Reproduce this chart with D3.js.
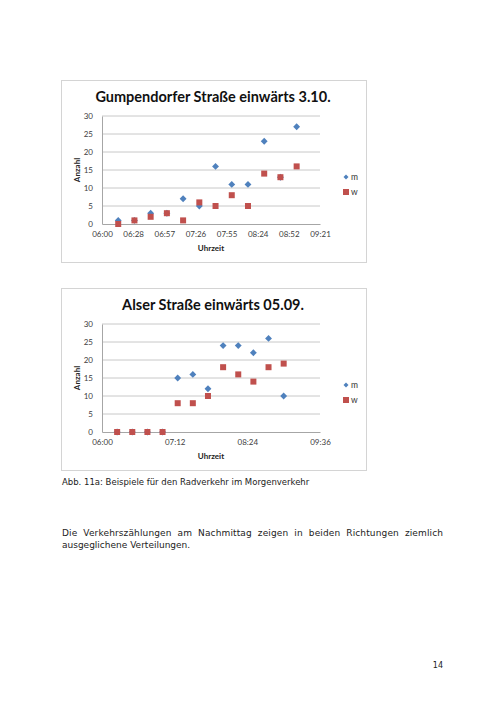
<!DOCTYPE html>
<html>
<head>
<meta charset="utf-8">
<script src="https://cdn.jsdelivr.net/npm/d3@7"></script>
<style>
  body { margin: 0; background: #fff; }
  .tick text { font-family: Lato, "Open Sans", sans-serif; font-size: 8px; fill: #404040; }
  .axisTitle { font-family: Lato, sans-serif; font-size: 8px; font-weight: bold; fill: #222; }
  .chartTitle { font-family: Lato, sans-serif; font-size: 14.5px; font-weight: bold; fill: #111; }
  .legendText { font-family: Lato, sans-serif; font-size: 8.5px; fill: #333; }
  .pageText { font-family: "DejaVu Sans", Verdana, sans-serif; fill: #222; }
</style>
</head>
<body>
<svg></svg>
<script>
const w = 504;
const h = 712;

// Chart 1: Gumpendorfer Straße
const times1 = ["06:15", "06:30", "06:45", "07:00", "07:15", "07:30", "07:45", "08:00", "08:15", "08:30", "08:45", "09:00"];
const m1 = [1, 1, 3, 3, 7, 5, 16, 11, 11, 23, 13, 27];
const w1 = [0, 1, 2, 3, 1, 6, 5, 8, 5, 14, 13, 16];
const xTicks1 = [0, 28.8, 57.6, 86.4, 115.2, 144, 172.8, 201.6];
const xLabels1 = ["06:00", "06:28", "06:57", "07:26", "07:55", "08:24", "08:52", "09:21"];

// Chart 2: Alser Straße
const times2 = ["06:15", "06:30", "06:45", "07:00", "07:15", "07:30", "07:45", "08:00", "08:15", "08:30", "08:45", "09:00"];
const m2 = [0, 0, 0, 0, 15, 16, 12, 24, 24, 22, 26, 10];
const w2 = [0, 0, 0, 0, 8, 8, 10, 18, 16, 14, 18, 19];
const xTicks2 = [0, 72, 144, 216];
const xLabels2 = ["06:00", "07:12", "08:24", "09:36"];

const yTicks = [0, 5, 10, 15, 20, 25, 30];
const seriesNames = ["m", "w"];

const svg = d3.select("svg").attr("width", w).attr("height", h);
svg.append("rect").attr("width", w).attr("height", h).attr("fill", "#fff");

const toMin = (t) => {
  const [hh, mm] = t.split(":").map(Number);
  return (hh - 6) * 60 + mm;
};

const drawChart = (top, title, times, mVals, wVals, xTicks, xLabels) => {
  const g = svg.append("g").attr("transform", `translate(61,${top})`);
  const boxW = 305;
  const boxH = 182;

  g.append("rect")
    .attr("x", 0.5).attr("y", 0.5)
    .attr("width", boxW).attr("height", boxH)
    .attr("fill", "#fff")
    .attr("stroke", "#d4d4d4");

  g.append("text")
    .attr("class", "chartTitle")
    .attr("x", 152).attr("y", 22)
    .attr("text-anchor", "middle")
    .text(title);

  const x = d3.scaleLinear().domain([0, xTicks[xTicks.length - 1]]).range([41, 259]);
  const y = d3.scaleLinear().domain([0, 30]).range([144, 36]);

  /** gridlines */
  g.selectAll(".grid")
    .data(yTicks.slice(1))
    .enter()
    .append("line")
    .attr("x1", x.range()[0]).attr("x2", x.range()[1])
    .attr("y1", (d) => y(d)).attr("y2", (d) => y(d))
    .attr("stroke", "#c8c8c8");

  const xAxis = g.append("g")
    .attr("transform", `translate(0,${y(0)})`)
    .call(d3.axisBottom(x).tickValues(xTicks).tickFormat((d, i) => xLabels[i]).tickSize(0).tickPadding(7));
  xAxis.select(".domain").attr("stroke", "#a6a6a6");

  const yAxis = g.append("g")
    .attr("transform", `translate(${x.range()[0]},0)`)
    .call(d3.axisLeft(y).tickValues(yTicks).tickSize(0).tickPadding(9));
  yAxis.select(".domain").attr("stroke", "#a6a6a6");

  g.append("text")
    .attr("class", "axisTitle")
    .attr("x", 150).attr("y", 171)
    .attr("text-anchor", "middle")
    .text("Uhrzeit");

  g.append("text")
    .attr("class", "axisTitle")
    .attr("transform", `translate(19,${y(15)}) rotate(-90)`)
    .attr("text-anchor", "middle")
    .text("Anzahl");

  /** m series: blue diamonds */
  g.selectAll(".m")
    .data(mVals)
    .enter()
    .append("path")
    .attr("d", d3.symbol(d3.symbolDiamond2, 30))
    .attr("transform", (d, i) => `translate(${x(toMin(times[i]))},${y(d)})`)
    .attr("fill", "#4f81bd");

  /** w series: red squares */
  g.selectAll(".w")
    .data(wVals)
    .enter()
    .append("rect")
    .attr("x", (d, i) => x(toMin(times[i])) - 3)
    .attr("y", (d) => y(d) - 3)
    .attr("width", 6).attr("height", 6)
    .attr("fill", "#c0504d");

  /** legend */
  const leg = g.append("g").attr("transform", "translate(285,97)");
  leg.append("path")
    .attr("d", d3.symbol(d3.symbolDiamond2, 16))
    .attr("fill", "#4f81bd");
  leg.append("rect")
    .attr("x", -3).attr("y", 12).attr("width", 6).attr("height", 6)
    .attr("fill", "#c0504d");
  leg.selectAll("text")
    .data(seriesNames)
    .enter()
    .append("text")
    .attr("class", "legendText")
    .attr("x", 5)
    .attr("y", (d, i) => i * 15 + 3)
    .text((d) => d);
};

drawChart(80, "Gumpendorfer Straße einwärts 3.10.", times1, m1, w1, xTicks1, xLabels1);
drawChart(288, "Alser Straße einwärts 05.09.", times2, m2, w2, xTicks2, xLabels2);

svg.append("text")
  .attr("class", "pageText")
  .attr("x", 62).attr("y", 485)
  .style("font-size", "8.5px")
  .text("Abb.  11a: Beispiele für den Radverkehr im Morgenverkehr");

svg.append("text")
  .attr("class", "pageText")
  .attr("x", 62).attr("y", 536)
  .attr("textLength", 381)
  .attr("lengthAdjust", "spacing")
  .style("font-size", "9px")
  .style("word-spacing", "3px")
  .text("Die Verkehrszählungen am Nachmittag zeigen in beiden Richtungen ziemlich");

svg.append("text")
  .attr("class", "pageText")
  .attr("x", 62).attr("y", 548)
  .style("font-size", "9px")
  .text("ausgeglichene Verteilungen.");

svg.append("text")
  .attr("class", "pageText")
  .attr("x", 443).attr("y", 668)
  .attr("text-anchor", "end")
  .style("font-size", "8px")
  .text("14");
</script>
</body>
</html>
